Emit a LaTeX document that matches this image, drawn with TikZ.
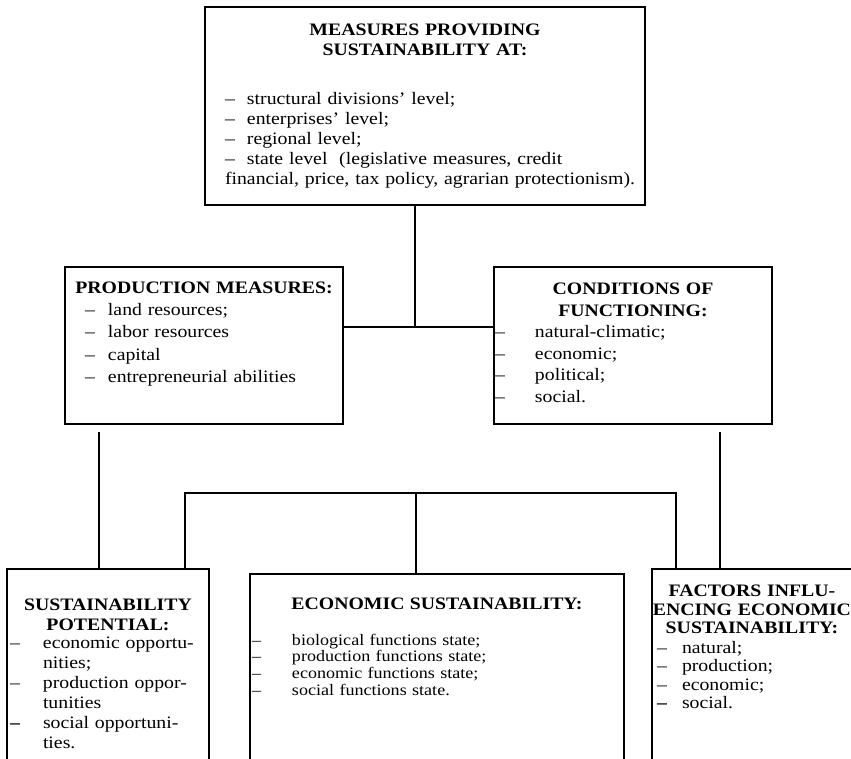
\documentclass[tikz,border=0pt]{standalone}
\usepackage{fontspec}
\setmainfont{Liberation Serif}[FakeStretch=1.13]
\usetikzlibrary{fit}
\usetikzlibrary{positioning}

\newcommand{\ttl}{\fontsize{17.5}{20}\selectfont\bfseries}
\newcommand{\titleline}[1]{\par\hbox to\hsize{\hss\ttl #1\hss}}
\newcommand{\dashitem}[3]{\par\hbox{\hskip#1\makebox[#2][l]{--}#3}}
\newcommand{\bolditem}[3]{\par\hbox{\hskip#1\makebox[#2][l]{\textbf{--}}#3}}
\newcommand{\plainline}[2]{\par\hbox{\hskip#1 #2}}
\newcommand{\gap}[1]{\par\vspace{#1}}

\begin{document}
\begin{tikzpicture}[
  x=1pt, y=-1pt,
  box/.style={draw, rectangle, line width=1.6pt, inner sep=0pt, outer sep=0pt},
  lbl/.style={inner sep=0pt, outer sep=0pt, anchor=north west},
  conn/.style={line width=1.6pt, black},
]
\useasboundingbox (0,0) rectangle (851,758);

% top level
\node (meas) [box, fit={(205,7) (645,205)}, label={[lbl, text width=440pt, yshift=-8pt,
  font=\fontsize{17.5}{20}\selectfont]north west:{%
  \titleline{MEASURES PROVIDING}
  \titleline{SUSTAINABILITY AT:}
  \gap{29.4pt}
  \dashitem{20pt}{22pt}{structural divisions' level;}
  \dashitem{20pt}{22pt}{enterprises' level;}
  \dashitem{20pt}{22pt}{regional level;}
  \dashitem{20pt}{22pt}{state level~ (legislative measures, credit}
  \plainline{20pt}{financial, price, tax policy, agrarian protectionism).}}}] {};

% middle level
\node (prod) [box, fit={(65,267) (343,424)}, label={[lbl, text width=278pt, yshift=-3.8pt,
  font=\fontsize{17.5}{22.3}\selectfont]north west:{%
  \titleline{PRODUCTION MEASURES:}
  \dashitem{20pt}{23pt}{land resources;}
  \dashitem{20pt}{23pt}{labor resources}
  \dashitem{20pt}{23pt}{capital}
  \dashitem{20pt}{23pt}{entrepreneurial abilities}}}] {};

\node (cond) [box, fit={(494,267) (772,424)}, label={[lbl, text width=278pt, yshift=-6.4pt,
  font=\fontsize{17.5}{21.5}\selectfont]north west:{%
  \titleline{CONDITIONS OF}
  \titleline{FUNCTIONING:}
  \dashitem{1pt}{40pt}{natural-climatic;}
  \dashitem{1pt}{40pt}{economic;}
  \dashitem{1pt}{40pt}{political;}
  \dashitem{1pt}{40pt}{social.}}}] {};

% bottom level
\node (pot) [box, fit={(7,569) (209,785)}, label={[lbl, text width=202pt, yshift=-21.4pt,
  font=\fontsize{17.5}{20}\selectfont]north west:{%
  \titleline{SUSTAINABILITY}
  \titleline{POTENTIAL:}
  \gap{-2pt}
  \dashitem{3pt}{33pt}{economic opportu-}
  \plainline{36pt}{nities;}
  \dashitem{3pt}{33pt}{production oppor-}
  \plainline{36pt}{tunities}
  \bolditem{3pt}{33pt}{social opportuni-}
  \plainline{36pt}{ties.}}}] {};

\node (econ) [box, fit={(250,574) (624,785)}, label={[lbl, text width=374pt, yshift=-18.4pt,
  font=\fontsize{16}{16.7}\selectfont]north west:{%
  \titleline{ECONOMIC SUSTAINABILITY:}
  \gap{19.3pt}
  \dashitem{2pt}{40pt}{biological functions state;}
  \dashitem{2pt}{40pt}{production functions state;}
  \dashitem{2pt}{40pt}{economic functions state;}
  \dashitem{2pt}{40pt}{social functions state.}}}] {};

\node (fact) [box, fit={(652,569) (860,785)}, label={[lbl, text width=200pt, yshift=-9.4pt,
  font=\fontsize{17.5}{18.5}\selectfont]north west:{%
  \titleline{FACTORS INFLU-}
  \titleline{ENCING ECONOMIC}
  \titleline{SUSTAINABILITY:}
  \gap{1pt}
  \dashitem{5pt}{25pt}{natural;}
  \dashitem{5pt}{25pt}{production;}
  \dashitem{5pt}{25pt}{economic;}
  \bolditem{5pt}{25pt}{social.}}}] {};

% connectors
\coordinate (mid) at (415,327);
\coordinate (dropL) at (99,432);
\coordinate (dropR) at (720,432);
\coordinate (barL) at (185,493);
\coordinate (barM) at (416,493);
\coordinate (barR) at (676,493);

\draw[conn] (mid |- meas.south) -- (mid);
\draw[conn] (prod.east |- mid) -- (cond.west |- mid);
\draw[conn] (dropL) -- (dropL |- pot.north);
\draw[conn] (dropR) -- (dropR |- fact.north);
\draw[conn] (barL |- pot.north) -- (barL) -- (barR) -- (barR |- fact.north);
\draw[conn] (barM) -- (barM |- econ.north);
\end{tikzpicture}
\end{document}
